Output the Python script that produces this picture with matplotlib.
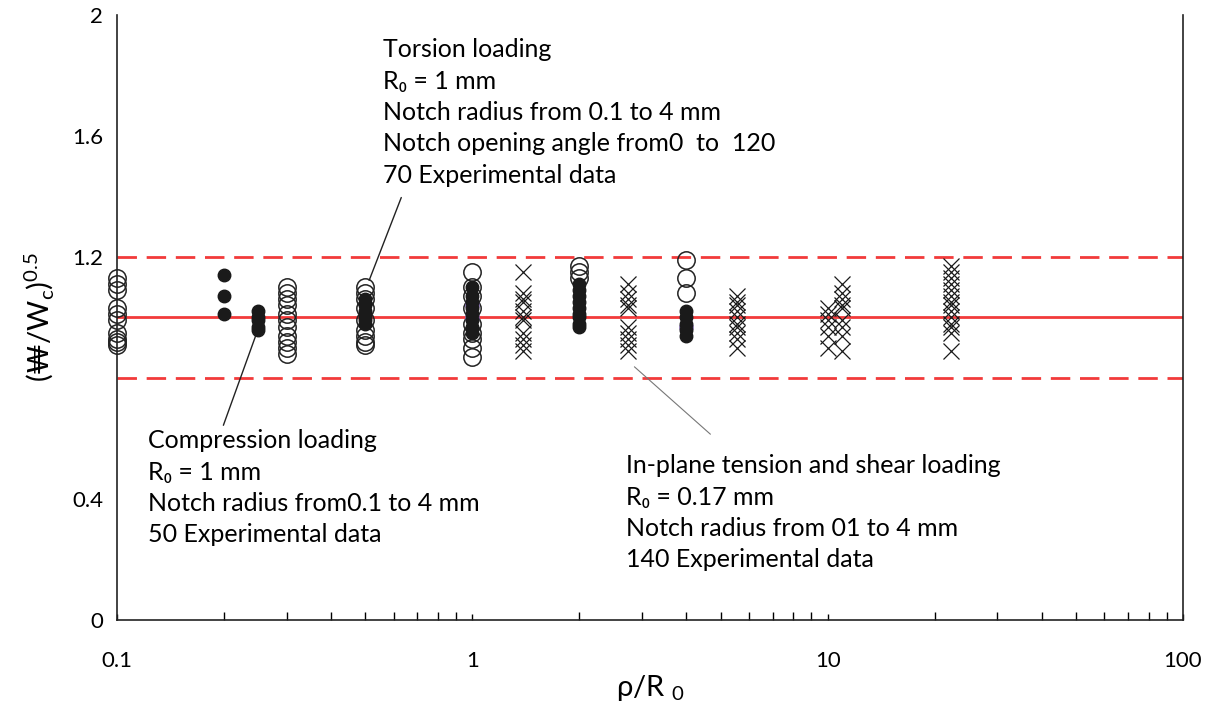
import numpy as np
import matplotlib.pyplot as plt
from matplotlib.ticker import LogLocator, NullFormatter, FixedLocator

plt.rcParams['font.family'] = ['Lato', 'DejaVu Sans']
plt.rcParams['mathtext.fontset'] = 'custom'
plt.rcParams['mathtext.rm'] = 'Lato'

# torsion loading, open circles
tor_x = [0.1, 0.3, 0.5, 1, 2, 4]
tor_y = [
    [1.13, 1.11, 1.09, 1.03, 1.01, 0.99, 0.95, 0.93, 0.92, 0.91],
    [1.10, 1.08, 1.06, 1.04, 1.01, 0.99, 0.97, 0.94, 0.92, 0.90, 0.88],
    [1.10, 1.08, 1.06, 1.03, 0.99, 0.96, 0.94, 0.92, 0.91],
    [1.15, 1.10, 1.07, 1.03, 0.98, 0.95, 0.93, 0.90, 0.87],
    [1.17, 1.15, 1.13],
    [1.19, 1.13, 1.08],
]

# compression loading, filled circles
comp_x = [0.2, 0.25, 0.5, 1, 2, 4]
comp_y = [
    [1.14, 1.07, 1.01],
    [1.02, 1.00, 0.99, 0.97, 0.96],
    [1.06, 1.04, 1.02, 1.00, 0.99, 0.98],
    [1.10, 1.07, 1.05, 1.03, 1.01, 0.99, 0.97, 0.95],
    [1.11, 1.09, 1.07, 1.05, 1.03, 1.01, 1.00, 0.98, 0.97],
    [1.02, 1.00, 0.98, 0.96, 0.94],
]
purple_x = [1, 1, 4]
purple_y = [1.04, 1.0, 0.97]

# in-plane tension and shear, crosses
inp_x = [1.39, 2.75, 5.54, 10, 11, 22.2]
inp_y = [
    [1.15, 1.08, 1.06, 1.05, 1.02, 1.00, 0.99, 0.95, 0.93, 0.91, 0.89],
    [1.11, 1.08, 1.06, 1.04, 1.03, 0.97, 0.95, 0.93, 0.91, 0.89],
    [1.07, 1.05, 1.04, 1.02, 1.00, 0.98, 0.97, 0.95, 0.93, 0.90],
    [1.03, 1.01, 0.99, 0.97, 0.94, 0.90],
    [1.11, 1.08, 1.06, 1.04, 1.03, 0.99, 0.97, 0.94, 0.89],
    [1.17, 1.15, 1.13, 1.11, 1.09, 1.07, 1.05, 1.04, 1.02, 1.00, 0.98, 0.97, 0.95, 0.89],
]

band_mid = 1.0
band_lo, band_hi = 0.8, 1.2

fig = plt.figure(figsize=(12.09, 7.11), dpi=100)
ax = fig.add_axes([0.0968, 0.128, 0.8817, 0.851])

red = '#f23a3a'
ax.axhline(band_mid, color=red, lw=2, zorder=1)
ax.axhline(band_hi, color=red, lw=2, dashes=(7, 3.5), zorder=1)
ax.axhline(band_lo, color=red, lw=2, dashes=(7, 3.5), zorder=1)

for x, ys in zip(tor_x, tor_y):
    ax.plot([x]*len(ys), ys, 'o', ms=12.5, mfc='none', mec='#222222', mew=1.1,
            zorder=3, clip_on=False)
ax.plot(purple_x, purple_y, 'o', ms=9.5, color='#7b62a8', zorder=3.5)
for x, ys in zip(comp_x, comp_y):
    ax.plot([x]*len(ys), ys, 'o', ms=9, color='#1a1a1a', zorder=4)
for x, ys in zip(inp_x, inp_y):
    ax.plot([x]*len(ys), ys, 'x', ms=11.5, color='#1a1a1a', mew=0.9, zorder=3)

ax.set_xscale('log')
ax.set_xlim(0.1, 100)
ax.set_ylim(0, 2)
ax.yaxis.set_major_locator(FixedLocator([0, 0.4, 1.2, 1.6, 2]))
ax.set_yticklabels(['0', '0.4', '1.2', '1.6', '2'])
ax.xaxis.set_major_locator(FixedLocator([0.1, 1, 10, 100]))
ax.set_xticklabels(['0.1', '1', '10', '100'])
ax.xaxis.set_minor_locator(LogLocator(base=10, subs=np.arange(2, 10)))
ax.xaxis.set_minor_formatter(NullFormatter())
ax.tick_params(axis='x', which='major', direction='in', length=4, width=1, pad=22, labelsize=16)
ax.tick_params(axis='x', which='minor', direction='in', length=6, width=1)
ax.tick_params(axis='y', length=0, pad=10, labelsize=16)

ax.spines['top'].set_visible(False)
for s in ['left', 'right', 'bottom']:
    ax.spines[s].set_linewidth(1.2)
    ax.spines[s].set_color('#222222')

ax.set_ylabel('(₩/W$_\\mathregular{c}$)$^\\mathregular{0.5}$', fontsize=21, labelpad=11)
ax.set_xlabel('ρ/R $_\\mathregular{0}$', fontsize=21, labelpad=2)

txt = dict(fontsize=18, va='top', ha='left', linespacing=1.44)
ax.text(0.561, 1.923, 'Torsion loading\nR₀ = 1 mm\nNotch radius from 0.1 to 4 mm\n'
        'Notch opening angle from0  to  120\n70 Experimental data', **txt)
ax.text(0.1223, 0.63, 'Compression loading\nR₀ = 1 mm\nNotch radius from0.1 to 4 mm\n'
        '50 Experimental data', **txt)
ax.text(2.70, 0.548, 'In-plane tension and shear loading\nR₀ = 0.17 mm\n'
        'Notch radius from 01 to 4 mm\n140 Experimental data', **txt)

ax.annotate('', xy=(0.509, 1.114), xytext=(0.635, 1.405),
            arrowprops=dict(arrowstyle='-', color='#222222', lw=1))
ax.annotate('', xy=(0.249, 0.959), xytext=(0.198, 0.635),
            arrowprops=dict(arrowstyle='-', color='#222222', lw=1))
ax.annotate('', xy=(2.82, 0.843), xytext=(4.74, 0.608),
            arrowprops=dict(arrowstyle='-', color='#777777', lw=0.8))

fig.savefig('out.png', dpi=100)
